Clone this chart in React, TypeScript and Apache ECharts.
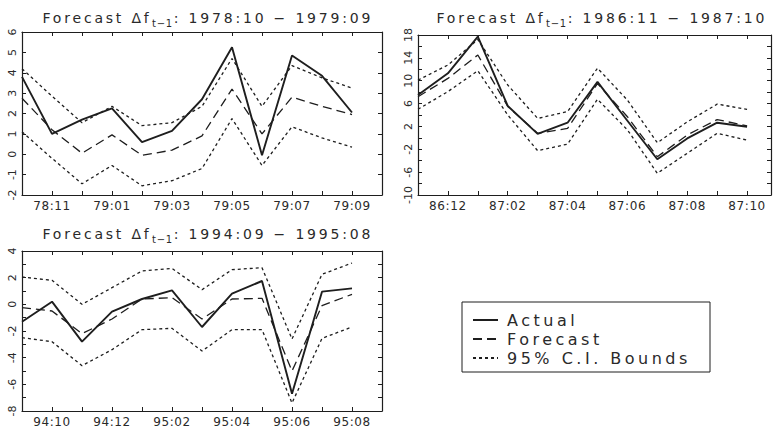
import React, { useEffect, useRef } from "react";
import * as echarts from "echarts";

// ---- data ----
const months1 = ["78:10", "78:11", "78:12", "79:01", "79:02", "79:03", "79:04", "79:05", "79:06", "79:07", "79:08", "79:09"];
const actual1 = [3.8, 1.0, 1.7, 2.25, 0.6, 1.15, 2.7, 5.25, -0.05, 4.85, 3.85, 2.05];
const forecast1 = [2.75, 1.2, 0.05, 0.95, -0.05, 0.2, 0.9, 3.2, 1.0, 2.8, 2.35, 1.95];
const upper1 = [4.2, 2.85, 1.55, 2.35, 1.4, 1.55, 2.35, 4.7, 2.35, 4.35, 3.75, 3.25];
const lower1 = [1.1, -0.2, -1.45, -0.55, -1.55, -1.3, -0.7, 1.75, -0.55, 1.35, 0.8, 0.35];

const months2 = ["86:11", "86:12", "87:01", "87:02", "87:03", "87:04", "87:05", "87:06", "87:07", "87:08", "87:09", "87:10"];
const actual2 = [7.5, 11.3, 17.7, 5.6, 0.7, 2.65, 9.8, 3.0, -3.75, -0.1, 2.65, 1.95];
const forecast2 = [7.2, 10.4, 14.5, 5.5, 0.8, 1.65, 9.5, 3.7, -3.3, 0.5, 3.2, 2.1];
const upper2 = [10.1, 12.75, 17.2, 9.25, 3.4, 4.6, 12.2, 6.6, -0.85, 2.8, 5.9, 5.0];
const lower2 = [5.0, 8.1, 11.75, 4.0, -2.25, -1.1, 6.75, 1.4, -6.2, -2.7, 0.8, -0.4];

const months3 = ["94:09", "94:10", "94:11", "94:12", "95:01", "95:02", "95:03", "95:04", "95:05", "95:06", "95:07", "95:08"];
const actual3 = [-1.3, 0.2, -2.8, -0.55, 0.4, 1.05, -1.7, 0.8, 1.75, -6.7, 0.95, 1.2];
const forecast3 = [-0.25, -0.5, -2.2, -1.1, 0.4, 0.5, -1.1, 0.4, 0.45, -5.0, -0.1, 0.75];
const upper3 = [2.05, 1.8, 0.0, 1.25, 2.5, 2.7, 1.1, 2.6, 2.75, -2.6, 2.25, 3.1];
const lower3 = [-2.5, -2.8, -4.6, -3.4, -1.9, -1.8, -3.5, -1.9, -1.9, -7.4, -2.55, -1.7];

const titleRanges = ["1978:10 − 1979:09", "1986:11 − 1987:10", "1994:09 − 1995:08"];
const legendNames = ["Actual", "Forecast", "95% C.I. Bounds"];

const INK = "#1e1e1e";
const TXT = "#2a2a2a";
const FONT = "DejaVu Sans";
const TITLE_SP = 2.8;

const panels = [
  { months: months1, actual: actual1, forecast: forecast1, upper: upper1, lower: lower1, range: titleRanges[0],
    grid: { left: 22, top: 32, width: 360, height: 163 }, yMin: -2, yMax: 6, yInt: 1, yLab: (v: number) => true, xMax: 12, tx: 203, ty: 3 },
  { months: months2, actual: actual2, forecast: forecast2, upper: upper2, lower: lower2, range: titleRanges[1],
    grid: { left: 418, top: 35, width: 354, height: 160 }, yMin: -10, yMax: 18, yInt: 2, yLab: (v: number) => (v + 10) % 4 === 0, xMax: 11.8, tx: 597, ty: 3 },
  { months: months3, actual: actual3, forecast: forecast3, upper: upper3, lower: lower3, range: titleRanges[2],
    grid: { left: 22, top: 251, width: 360, height: 162 }, yMin: -8, yMax: 4, yInt: 1, yLab: (v: number) => v % 2 === 0, xMax: 12, tx: 203, ty: 219 },
];

const pair = (vals: number[]) => vals.map((v, i) => [i, v]);

function measure(text: string, size: number, spacing: number) {
  const c = document.createElement("canvas").getContext("2d")!;
  c.font = `normal ${size}px "${FONT}"`;
  return Math.ceil(c.measureText(text).width + spacing * text.length);
}

const css = `
.chart text[style*="14px"] { letter-spacing: ${TITLE_SP}px; }
.chart text[style*="16px"] { letter-spacing: 3.5px; }
.chart text[style*="10px"] { letter-spacing: 0.8px; }
.chart text[style*="12px"] { letter-spacing: 0.6px; }
`;

export default function App() {
  const ref = useRef<HTMLDivElement>(null);
  useEffect(() => {
    const chart = echarts.init(ref.current!, null, { renderer: "svg" });
    const axisLine = { show: true, onZero: false, lineStyle: { color: INK, width: 1.2 } };
    const axisTick = { show: true, inside: true, length: 4, lineStyle: { color: INK, width: 1 } };
    const xAxis: any[] = [];
    const yAxis: any[] = [];
    const series: any[] = [];
    const title: any[] = [];
    panels.forEach((p, i) => {
      xAxis.push({
        gridIndex: i, type: "value", min: 0, max: p.xMax, interval: 1, position: "bottom",
        axisLine, axisTick, splitLine: { show: false },
        axisLabel: {
          margin: 5, fontSize: 12, color: TXT, fontFamily: FONT,
          formatter: (v: number) => (Number.isInteger(v) && v % 2 === 1 && v < p.months.length ? p.months[v] : ""),
        },
      });
      xAxis.push({
        gridIndex: i, type: "value", min: 0, max: p.xMax, interval: 1, position: "top",
        axisLine, axisTick, splitLine: { show: false }, axisLabel: { show: false },
      });
      yAxis.push({
        gridIndex: i, type: "value", min: p.yMin, max: p.yMax, interval: p.yInt, position: "left",
        axisLine, axisTick, splitLine: { show: false },
        axisLabel: {
          rotate: 90, margin: 4, fontSize: 11, color: TXT, fontFamily: FONT,
          formatter: (v: number) => (p.yLab(v) ? String(v) : ""),
        },
      });
      yAxis.push({
        gridIndex: i, type: "value", min: p.yMin, max: p.yMax, interval: p.yInt, position: "right",
        axisLine, axisTick, splitLine: { show: false }, axisLabel: { show: false },
      });
      const base = { type: "line", xAxisIndex: 2 * i, yAxisIndex: 2 * i, symbol: "none", silent: true, color: INK };
      series.push({ ...base, name: legendNames[0], data: pair(p.actual), lineStyle: { color: INK, width: 1.9, type: "solid" } });
      series.push({ ...base, name: legendNames[1], data: pair(p.forecast), lineStyle: { color: INK, width: 1.3, type: [9, 5] } });
      series.push({ ...base, name: legendNames[2], data: pair(p.upper), lineStyle: { color: INK, width: 1.3, type: [3, 3] } });
      series.push({ ...base, name: legendNames[2], data: pair(p.lower), lineStyle: { color: INK, width: 1.3, type: [3, 3] } });

      const aText = "Forecast Δf";
      const sText = "t−1";
      const bText = ": " + p.range;
      const common = { fontFamily: FONT, fontWeight: "normal", color: TXT, lineHeight: 20 };
      title.push({
        left: p.tx, top: p.ty, textAlign: "center",
        text: `{a|${aText}}{s|${sText}}{b|${bText}}`,
        textStyle: {
          fontWeight: "normal",
          rich: {
            a: { ...common, fontSize: 14, width: measure(aText, 14, TITLE_SP) },
            s: { ...common, fontSize: 10, verticalAlign: "bottom", width: measure(sText, 10, 0.8) },
            b: { ...common, fontSize: 14, width: measure(bText, 14, TITLE_SP) },
          },
        },
      });
    });

    chart.setOption({
      animation: false,
      backgroundColor: "#ffffff",
      title,
      grid: panels.map((p) => ({ ...p.grid, containLabel: false })),
      xAxis,
      yAxis,
      series,
      legend: {
        orient: "vertical", left: 472, top: 312, padding: 0, itemWidth: 25, itemHeight: 14, itemGap: 3,
        selectedMode: false,
        itemStyle: { color: "rgba(0,0,0,0)", borderColor: "rgba(0,0,0,0)", borderWidth: 0, opacity: 0 },
        textStyle: { fontSize: 16, lineHeight: 14, color: TXT, fontFamily: FONT, padding: [0, 0, 0, 4] },
        data: legendNames.map((n) => ({ name: n })),
      },
      graphic: [
        { type: "rect", shape: { x: 462, y: 302, width: 248, height: 70 }, style: { fill: "none", stroke: INK, lineWidth: 1 } },
      ],
    });
    return () => chart.dispose();
  }, []);
  return (
    <div style={{ position: "fixed", left: 0, top: 0, width: 774, height: 428, background: "#fff" }}>
      <style>{css}</style>
      <div ref={ref} className="chart" style={{ width: 774, height: 428 }} />
    </div>
  );
}
